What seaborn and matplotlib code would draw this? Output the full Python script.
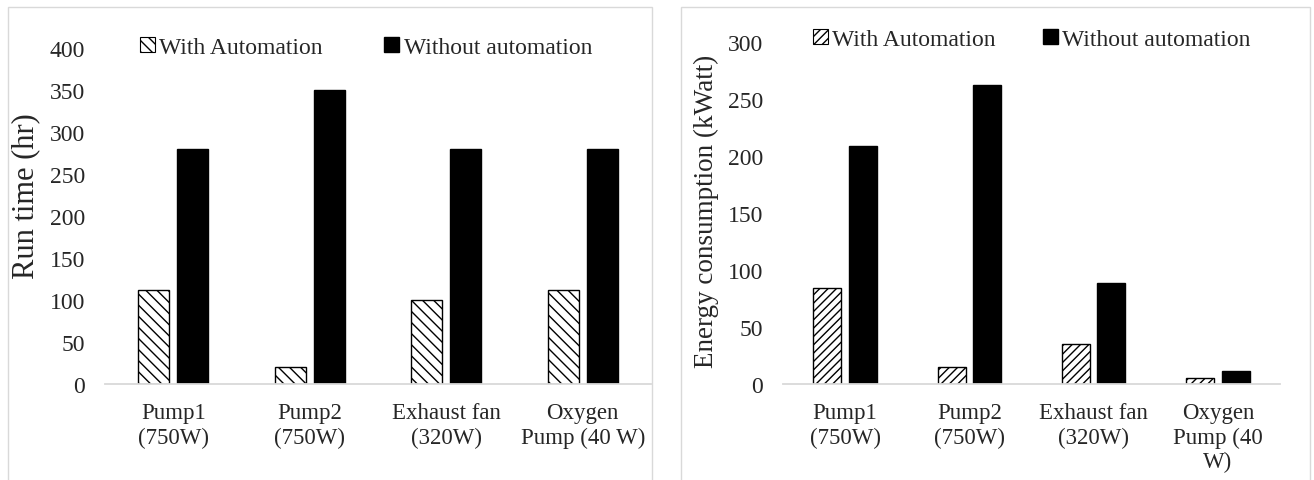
import matplotlib
matplotlib.use("Agg")
import matplotlib.pyplot as plt
from matplotlib.patches import Patch, Rectangle
import pandas as pd
import seaborn as sns

# Appliance categories (two-line labels differ between panels)
categories = ["Pump1", "Pump2", "Exhaust fan", "Oxygen Pump"]
labels_runtime = ["Pump1\n(750W)", "Pump2\n(750W)", "Exhaust fan\n(320W)", "Oxygen\nPump (40 W)"]
labels_energy = ["Pump1\n(750W)", "Pump2\n(750W)", "Exhaust fan\n(320W)", "Oxygen\nPump (40\nW)"]
series = ["With Automation", "Without automation"]

# Run time (hr)
runtime_with = [112, 20, 100, 112]
runtime_without = [280, 350, 280, 280]

# Energy consumption (kWatt)
energy_with = [84, 15, 35, 5]
energy_without = [209, 262, 89, 11]


def long_frame(with_vals, without_vals):
    rows = []
    for cat, a, b in zip(categories, with_vals, without_vals):
        rows.append({"item": cat, "mode": series[0], "value": a})
        rows.append({"item": cat, "mode": series[1], "value": b})
    return pd.DataFrame(rows)


sns.set_theme(style="white")
plt.rcParams["font.family"] = ["Liberation Serif", "DejaVu Serif"]
plt.rcParams["hatch.linewidth"] = 1.0

fig = plt.figure(figsize=(13.14, 4.81), dpi=100)
W, H = 1314, 481

# Panel frames
for x0, x1 in [(8, 652), (681, 1310)]:
    fig.patches.append(Rectangle((x0 / W, -0.05), (x1 - x0) / W, (H - 8) / H + 0.05,
                                 transform=fig.transFigure, fill=False,
                                 edgecolor="#d9d9d9", linewidth=1.0))


def panel(px, with_vals, without_vals, ticklabels, ylabel, ymax, hatch,
          ylabel_size, ylabel_xy, legend_xy, colspace):
    left, right, top, bottom = px
    ax = fig.add_axes([left / W, 1 - bottom / H, (right - left) / W, (bottom - top) / H])
    df = long_frame(with_vals, without_vals)
    sns.barplot(data=df, x="item", y="value", hue="mode", hue_order=series,
                palette=["white", "black"], width=0.57, gap=0.21,
                edgecolor="black", linewidth=1.0, legend=False, ax=ax)
    for bar in ax.containers[0]:
        bar.set_facecolor("white")
        bar.set_hatch(hatch)
        bar.set_edgecolor("black")
    for bar in ax.containers[1]:
        bar.set_facecolor("black")
    ax.set_ylim(0, ymax)
    ax.set_yticks(range(0, ymax + 1, 50))
    ax.set_xlim(-0.5, 3.5)
    ax.set_xticks(range(4))
    ax.set_xticklabels(ticklabels, fontsize=16.5, linespacing=1.22)
    ax.tick_params(axis="y", labelsize=17, length=0, pad=14.5)
    ax.tick_params(axis="x", length=0, pad=13)
    ax.set_xlabel("")
    # label anchored at its right edge (rotated text, bottom-aligned)
    ax.set_ylabel(ylabel, fontsize=ylabel_size)
    ax.yaxis.set_label_coords((ylabel_xy[0] - left) / (right - left),
                              (bottom - ylabel_xy[1]) / (bottom - top))
    for s in ["top", "right", "left"]:
        ax.spines[s].set_visible(False)
    ax.spines["bottom"].set_color("#d9d9d9")
    ax.spines["bottom"].set_linewidth(1.3)
    ax.patch.set_alpha(0)
    handles = [Patch(facecolor="white", edgecolor="black", hatch=hatch, linewidth=0.8),
               Patch(facecolor="black", edgecolor="black")]
    fig.legend(handles, series, loc="center left",
               bbox_to_anchor=(legend_xy[0] / W, 1 - legend_xy[1] / H),
               ncol=2, frameon=False, fontsize=17, handlelength=0.62, handleheight=0.62,
               handletextpad=0.2, columnspacing=colspace, borderpad=0, borderaxespad=0)
    return ax


panel((105, 651, 49, 385), runtime_with, runtime_without, labels_runtime,
      "Run time (hr)", 400, "\\\\\\", 22, (40, 196), (140, 48), 2.6)
panel((783, 1280, 43, 385), energy_with, energy_without, labels_energy,
      "Energy consumption (kWatt)", 300, "////", 19.5, (719, 211), (813, 40), 2.0)

fig.savefig("out.png", dpi=100)
